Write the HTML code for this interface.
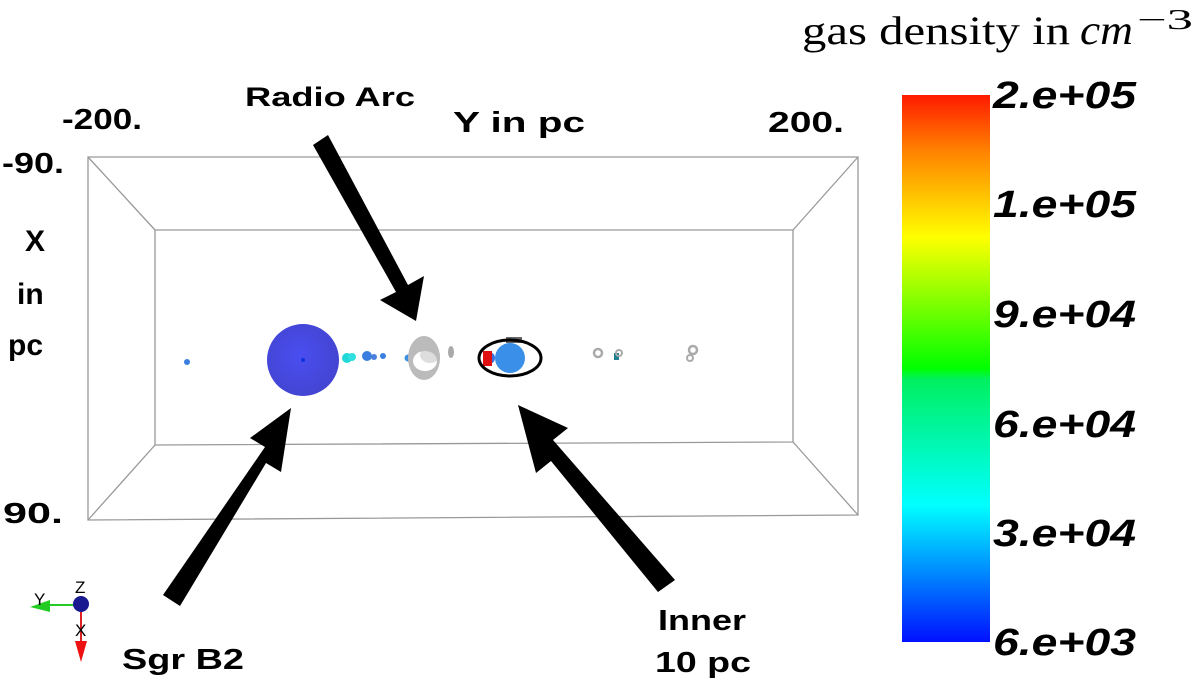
<!DOCTYPE html>
<html><head><meta charset="utf-8"><style>
html,body{margin:0;padding:0;background:#fff;}
svg{display:block;}
.b{font-family:"Liberation Sans",sans-serif;font-weight:bold;fill:#000;}
.c{font-family:"Liberation Sans",sans-serif;font-weight:bold;font-style:italic;fill:#000;font-size:38px;}
</style></head><body>
<svg width="1200" height="689" viewBox="0 0 1200 689" xmlns="http://www.w3.org/2000/svg">
<defs>
<linearGradient id="cb" x1="0" y1="0" x2="0" y2="1">
<stop offset="0" stop-color="#ff1a00"/>
<stop offset="0.1" stop-color="#ff8000"/>
<stop offset="0.26" stop-color="#ffff00"/>
<stop offset="0.5" stop-color="#00ff00"/>
<stop offset="0.52" stop-color="#00f060"/>
<stop offset="0.75" stop-color="#00ffff"/>
<stop offset="1" stop-color="#0010ff"/>
</linearGradient>
<radialGradient id="sg" cx="0.45" cy="0.45" r="0.6">
<stop offset="0" stop-color="#4a4ef0"/><stop offset="1" stop-color="#4344d0"/>
</radialGradient>
</defs>
<g stroke="#999" stroke-width="1.3" fill="none">
<polygon points="88,157 858,157 858,515 88,520"/>
<polygon points="155,230 793,230 793,442 155,445"/>
<line x1="88" y1="157" x2="155" y2="230"/><line x1="858" y1="157" x2="793" y2="230"/>
<line x1="88" y1="520" x2="155" y2="445"/><line x1="858" y1="515" x2="793" y2="442"/>
</g>
<circle cx="187" cy="362" r="3" fill="#3a7fe0"/>
<circle cx="303" cy="360" r="36" fill="url(#sg)"/>
<circle cx="303" cy="360" r="2" fill="#1030e0"/>
<circle cx="347" cy="358" r="5" fill="#20d8d8"/>
<circle cx="352" cy="357" r="4" fill="#30e0e0"/>
<circle cx="367" cy="356" r="5" fill="#3a7fe0"/>
<circle cx="374" cy="357" r="3" fill="#4a80e0"/>
<circle cx="383" cy="356" r="3" fill="#3a7fe0"/>
<circle cx="408" cy="358" r="3.5" fill="#3a90e0"/>
<ellipse cx="424" cy="358" rx="16" ry="22" fill="#bbb"/>
<ellipse cx="425" cy="361" rx="12" ry="10" fill="#fff"/>
<ellipse cx="430" cy="355" rx="10" ry="8" fill="#bbb" opacity="0.5"/>
<ellipse cx="451" cy="352" rx="3" ry="6" fill="#aaa"/>
<rect x="506" y="337" width="16" height="6" fill="#666"/>
<circle cx="489" cy="358" r="6" fill="#3a70e0"/>
<rect x="483" y="351" width="9" height="15" fill="#e01010"/>
<circle cx="510" cy="358" r="15" fill="#3a90e8"/>
<ellipse cx="510" cy="358" rx="31" ry="18" fill="none" stroke="#000" stroke-width="3"/>
<circle cx="598" cy="353" r="4" fill="none" stroke="#aaa" stroke-width="2.5"/>
<rect x="614" y="353" width="5" height="7" fill="#208090"/>
<circle cx="619" cy="353" r="3" fill="none" stroke="#aaa" stroke-width="2"/>
<circle cx="693" cy="350" r="4" fill="none" stroke="#aaa" stroke-width="2.5"/>
<circle cx="690" cy="358" r="3" fill="none" stroke="#aaa" stroke-width="2"/>
<g fill="#000">
<polygon points="313,145 328,135 408,285 424,276 416,321 380,300 396,292"/>
<polygon points="163,595 180,606 266,463 281,472 291,408 250,438 265,447"/>
<polygon points="675,580 658,592 551,461 536,473 518,405 568,428 553,440"/>
</g>
<text class="b" x="245" y="106" font-size="27" textLength="170" lengthAdjust="spacingAndGlyphs">Radio Arc</text>
<text class="b" x="453" y="132" font-size="29" textLength="132" lengthAdjust="spacingAndGlyphs">Y in pc</text>
<text class="b" x="62" y="129" font-size="29" textLength="80" lengthAdjust="spacingAndGlyphs">-200.</text>
<text class="b" x="768" y="132" font-size="29" textLength="76" lengthAdjust="spacingAndGlyphs">200.</text>
<text class="b" x="2" y="173" font-size="29" textLength="62" lengthAdjust="spacingAndGlyphs">-90.</text>
<text class="b" x="25" y="251" font-size="30">X</text>
<text class="b" x="17" y="304" font-size="30">in</text>
<text class="b" x="8" y="355" font-size="30">pc</text>
<text class="b" x="3" y="523" font-size="29" textLength="60" lengthAdjust="spacingAndGlyphs">90.</text>
<text class="b" x="122" y="669" font-size="29" textLength="122" lengthAdjust="spacingAndGlyphs">Sgr B2</text>
<text class="b" x="658" y="630" font-size="29" textLength="88" lengthAdjust="spacingAndGlyphs">Inner</text>
<text class="b" x="655" y="672" font-size="29" textLength="96" lengthAdjust="spacingAndGlyphs">10 pc</text>
<line x1="80" y1="605" x2="48" y2="605" stroke="#2c2" stroke-width="2"/>
<polygon points="30,607 50,600 50,612" fill="#2c2"/>
<line x1="81" y1="606" x2="81" y2="646" stroke="#d22" stroke-width="2"/>
<polygon points="81,662 75,641 87,641" fill="#e11"/>
<circle cx="81" cy="604" r="8" fill="#1a1a90"/>
<text x="34" y="605" font-family="Liberation Sans,sans-serif" font-size="17">Y</text>
<text x="75" y="593" font-family="Liberation Sans,sans-serif" font-size="17">Z</text>
<text x="75" y="636" font-family="Liberation Sans,sans-serif" font-size="17">X</text>
<text x="802" y="44" font-family="Liberation Serif,serif" font-size="40" textLength="268" lengthAdjust="spacingAndGlyphs">gas density in</text>
<text x="1080" y="44" font-family="Liberation Serif,serif" font-style="italic" font-size="42" textLength="53" lengthAdjust="spacingAndGlyphs">cm</text>
<text x="1137" y="29" font-family="Liberation Serif,serif" font-size="28" textLength="56" lengthAdjust="spacingAndGlyphs">−3</text>
<rect x="902" y="95" width="88" height="547" fill="url(#cb)"/>
<text class="c" x="993" y="108" textLength="143" lengthAdjust="spacingAndGlyphs">2.e+05</text>
<text class="c" x="993" y="217" textLength="143" lengthAdjust="spacingAndGlyphs">1.e+05</text>
<text class="c" x="993" y="327" textLength="143" lengthAdjust="spacingAndGlyphs">9.e+04</text>
<text class="c" x="993" y="437" textLength="143" lengthAdjust="spacingAndGlyphs">6.e+04</text>
<text class="c" x="993" y="546" textLength="143" lengthAdjust="spacingAndGlyphs">3.e+04</text>
<text class="c" x="993" y="655" textLength="143" lengthAdjust="spacingAndGlyphs">6.e+03</text>
</svg>
</body></html>
